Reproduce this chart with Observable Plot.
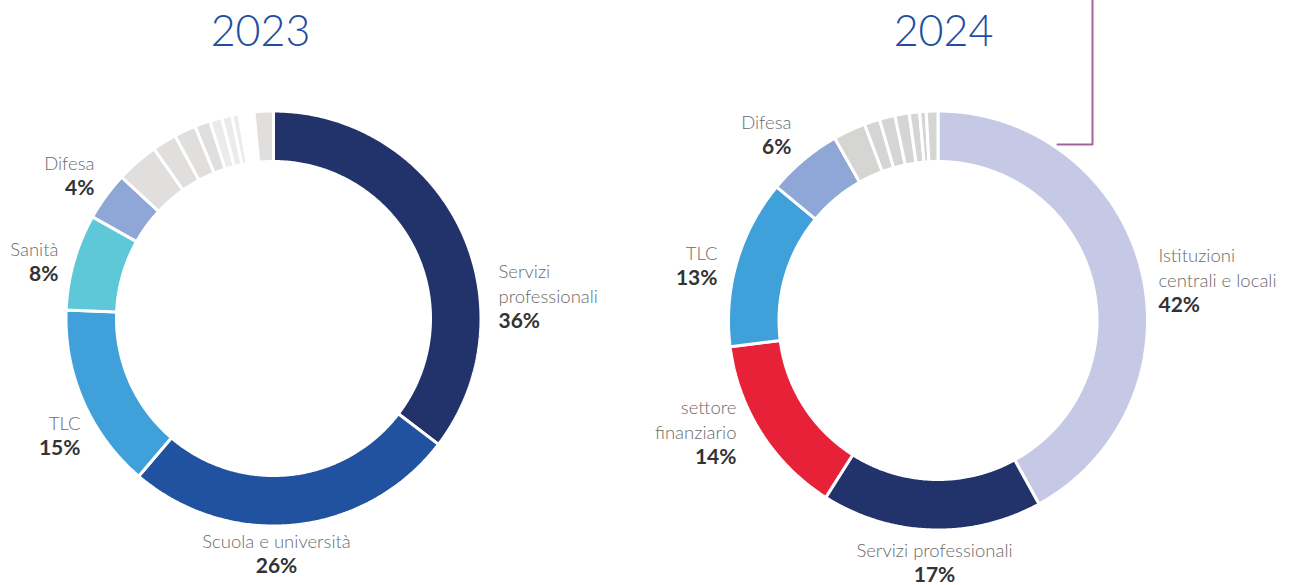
<!DOCTYPE html>
<html>
<head>
<meta charset="utf-8">
<script src="https://cdn.jsdelivr.net/npm/d3@7"></script>
<script src="https://cdn.jsdelivr.net/npm/@observablehq/plot@0.6"></script>
<style>
  html, body { margin: 0; padding: 0; background: #fff; }
  #chart { width: 1290px; height: 585px; }
</style>
</head>
<body>
<div id="chart"></div>
<script>
// ---------- DATA ----------
const years = ["2023", "2024"];

const names2023 = ["Servizi\nprofessionali", "Scuola e università", "TLC", "Sanità", "Difesa",
  "", "", "", "", "", "", "", "", "", "", "", ""];
const values2023 = [35.4, 25.9, 14.4, 7.5, 3.8,
  3.3, 1.9, 1.7, 1.2, 0.95, 0.8, 0.55, 0.22, 0.15, 0.15, 0.65, 1.5];
const pct2023 = ["36%", "26%", "15%", "8%", "4%"];

const names2024 = ["Istituzioni\ncentrali e locali", "Servizi professionali", "settore\nfinanziario", "TLC", "Difesa",
  "", "", "", "", "", "", ""];
const values2024 = [42, 17, 14, 13, 5.8,
  2.5, 1.2, 1.2, 1.1, 0.8, 0.5, 0.9];
const pct2024 = ["42%", "17%", "14%", "13%", "6%"];

// ---------- STYLES / LAYOUT ----------
const navy = "#22336b", blue = "#2152a0", tlc = "#40a0d9", san = "#5ec8d9", dif = "#8ea7d6";
const g1 = "#e0dfdd", g2 = "#ebebea", g3 = "#f0efee", tint = "#f3e4dc";
const colors2023 = [navy, blue, tlc, san, dif, g1, g1, g1, g1, g2, g2, g2, g3, tint, tint, "#ffffff", g1];
const gr = "#d5d6d4";
const colors2024 = ["#c6c9e5", navy, "#e72138", tlc, dif, gr, gr, gr, gr, gr, gr, gr];

const layout = {
  "2023": {cx: 273, cy: 318, R: 207.5, r: 157, titleX: 260,
    labels: [[498, 321, "start"], [276, 566, "middle"], [80, 448, "end"], [58, 274, "end"], [94, 188, "end"]]},
  "2024": {cx: 937.5, cy: 320, R: 209.5, r: 159, titleX: 943,
    labels: [[1158, 305, "start"], [934, 575, "middle"], [736, 457, "end"], [717, 278, "end"], [791, 147, "end"]]}
};
const connector = [[1092, 0], [1092, 144], [1057, 144]];

// ---------- BUILD ----------
const series = {
  "2023": {names: names2023, values: values2023, pct: pct2023, colors: colors2023},
  "2024": {names: names2024, values: values2024, pct: pct2024, colors: colors2024}
};

const slicePts = [];
const nameLines = [];
const pctLabels = [];
const titles = [];

for (const yr of years) {
  const s = series[yr], L = layout[yr];
  const items = s.values.map((v, i) => ({v, i}));
  const arcs = d3.pie().sort(null).value(d => d.v)(items);
  arcs.forEach(a => {
    const key = yr + "-" + a.data.i;
    const color = s.colors[a.data.i];
    const n = Math.max(2, Math.ceil((a.endAngle - a.startAngle) / (Math.PI / 360)));
    const pts = [];
    for (let k = 0; k <= n; k++) {
      const t = a.startAngle + (a.endAngle - a.startAngle) * k / n;
      pts.push([L.cx + L.R * Math.sin(t), L.cy - L.R * Math.cos(t)]);
    }
    for (let k = n; k >= 0; k--) {
      const t = a.startAngle + (a.endAngle - a.startAngle) * k / n;
      pts.push([L.cx + L.r * Math.sin(t), L.cy - L.r * Math.cos(t)]);
    }
    pts.push(pts[0]);
    pts.forEach(p => slicePts.push({key, color, x: p[0], y: p[1]}));
  });
  s.pct.forEach((p, i) => {
    const [x, y, anchor] = L.labels[i];
    pctLabels.push({x, y, anchor, text: p});
    const lines = s.names[i].split("\n");
    lines.forEach((ln, j) => {
      nameLines.push({x, y: y - (lines.length - j) * 24.5, anchor, text: ln});
    });
  });
  titles.push({x: L.titleX, y: 32, text: yr});
}

const font = "Lato, 'Noto Sans', sans-serif";

const chart = Plot.plot({
  width: 1290,
  height: 585,
  margin: 0,
  style: {fontFamily: font, background: "#fff"},
  x: {domain: [0, 1290], range: [0, 1290], axis: null},
  y: {domain: [0, 585], range: [0, 585], axis: null},
  color: {type: "identity"},
  marks: [
    Plot.line(slicePts, {x: "x", y: "y", z: "key", fill: "color", stroke: "#ffffff", strokeWidth: 3, strokeLinejoin: "miter", curve: "linear"}),
    Plot.line(connector, {x: d => d[0], y: d => d[1], stroke: "#a0669a", strokeWidth: 2}),
    Plot.text(titles, {x: "x", y: "y", text: "text", fontSize: 43, fontWeight: 300, fill: "#1f4ea0", textAnchor: "middle", lineAnchor: "middle"}),
    ...["start", "middle", "end"].map(anc => Plot.text(nameLines.filter(d => d.anchor === anc), {x: "x", y: "y", text: "text", textAnchor: anc, lineAnchor: "middle", fontSize: 18.5, fontWeight: 300, fill: "#6b6b6b"})),
    ...["start", "middle", "end"].map(anc => Plot.text(pctLabels.filter(d => d.anchor === anc), {x: "x", y: "y", text: "text", textAnchor: anc, lineAnchor: "middle", fontSize: 21, fontWeight: 700, fill: "#333333"}))
  ]
});
document.getElementById("chart").appendChild(chart);
</script>
</body>
</html>
